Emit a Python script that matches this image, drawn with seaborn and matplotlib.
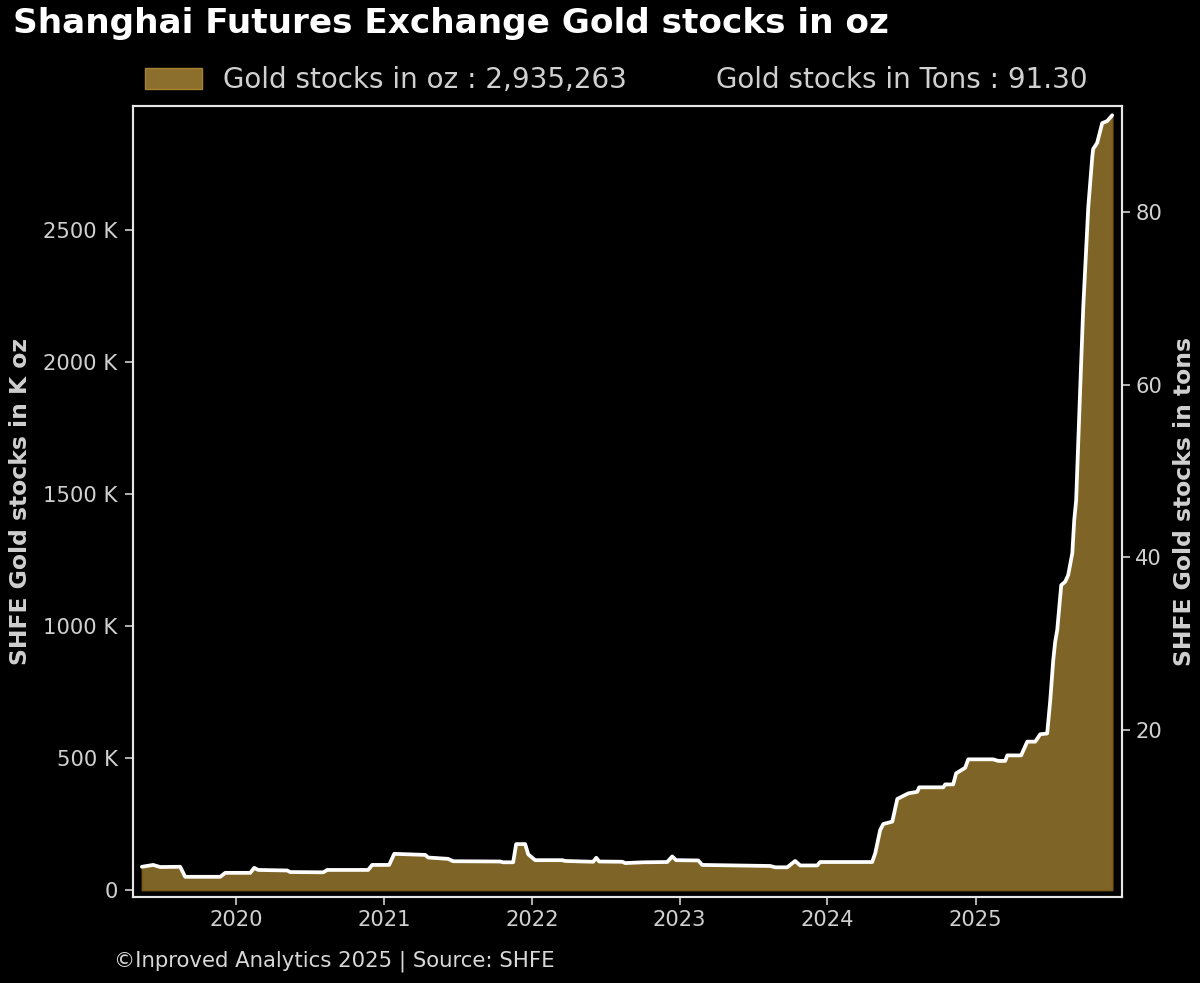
import numpy as np
import pandas as pd
import matplotlib
matplotlib.use("Agg")
import matplotlib.pyplot as plt
import matplotlib.dates as mdates
from matplotlib.patches import Patch
from matplotlib.lines import Line2D
from matplotlib.ticker import FuncFormatter
import seaborn as sns

TITLE = "Shanghai Futures Exchange Gold stocks in oz"
FOOTER = "©Inproved Analytics 2025 | Source: SHFE"
LEGEND_OZ = "Gold stocks in oz : 2,935,263"
LEGEND_TONS = "Gold stocks in Tons : 91.30"
YLABEL_LEFT = "SHFE Gold stocks in K oz"
YLABEL_RIGHT = "SHFE Gold stocks in tons"

decimal_years = [
    2019.362, 2019.438, 2019.486, 2019.621, 2019.655, 2019.777, 2019.892, 2019.926,
    2020.095, 2020.122, 2020.149, 2020.345, 2020.365, 2020.589, 2020.616, 2020.893,
    2020.920, 2021.035, 2021.069, 2021.279, 2021.299, 2021.434, 2021.468, 2021.786,
    2021.806, 2021.874, 2021.894, 2021.955, 2021.976, 2022.023, 2022.206, 2022.226,
    2022.415, 2022.436, 2022.456, 2022.612, 2022.632, 2022.754, 2022.916, 2022.950,
    2022.977, 2023.126, 2023.153, 2023.613, 2023.647, 2023.728, 2023.782, 2023.816,
    2023.931, 2023.951, 2024.303, 2024.324, 2024.357, 2024.378, 2024.439, 2024.473,
    2024.547, 2024.608, 2024.621, 2024.784, 2024.797, 2024.851, 2024.871, 2024.932,
    2024.953, 2025.122, 2025.156, 2025.203, 2025.217, 2025.311, 2025.352, 2025.406,
    2025.440, 2025.487, 2025.508, 2025.528, 2025.541, 2025.555, 2025.582, 2025.609,
    2025.629, 2025.657, 2025.670, 2025.683, 2025.710, 2025.731, 2025.765, 2025.792,
    2025.798, 2025.825, 2025.859, 2025.893, 2025.927,
]
stocks_k_oz = [
    88, 95, 87, 88, 50, 50, 50, 65,
    65, 84, 76, 74, 68, 67, 76, 76,
    95, 95, 137, 133, 123, 118, 109, 108,
    105, 105, 174, 174, 135, 113, 113, 110,
    107, 122, 108, 107, 102, 105, 106, 127,
    113, 112, 95, 91, 86, 86, 110, 93,
    93, 106, 106, 140, 227, 250, 259, 345,
    366, 372, 389, 389, 400, 400, 442, 463,
    495, 495, 489, 489, 510, 510, 562, 562,
    590, 593, 720, 871, 940, 985, 1155, 1168,
    1193, 1276, 1401, 1477, 1894, 2208, 2587, 2777,
    2807, 2830, 2905, 2913, 2935,
]
left_ticks = [0, 500, 1000, 1500, 2000, 2500]
right_ticks = [20, 40, 60, 80]

sns.set_theme(style="dark", rc={
    "figure.facecolor": "black", "axes.facecolor": "black", "savefig.facecolor": "black",
    "axes.edgecolor": "#e6e6e6", "axes.linewidth": 1.5, "axes.grid": False,
    "text.color": "#d0d0d0", "axes.labelcolor": "#d0d0d0",
    "xtick.color": "#d0d0d0", "ytick.color": "#d0d0d0",
    "xtick.bottom": True, "ytick.left": True,
    "xtick.major.size": 6, "ytick.major.size": 6, "xtick.major.width": 1.2, "ytick.major.width": 1.2,
})
plt.rcParams["font.family"] = ["DejaVu Sans"]

dates = pd.Timestamp("2020-01-01") + pd.to_timedelta((np.array(decimal_years) - 2020) * 365.25, unit="D")
df = pd.DataFrame({"date": dates, "stocks": stocks_k_oz})

fig, ax = plt.subplots(figsize=(12, 9.83), dpi=100)
fig.subplots_adjust(left=133/1200, right=1122/1200, top=1-106/983, bottom=1-897/983)

ax.fill_between(df["date"], 0, df["stocks"], color="#7f6427", edgecolor="#7a5a18", linewidth=1.2)
sns.lineplot(data=df, x="date", y="stocks", ax=ax, color="white", linewidth=2.7, legend=False, zorder=3)

ax.set_xlim(pd.Timestamp("2019-04-21"), pd.Timestamp("2025-12-29"))
ax.set_ylim(-26.5, 2970)
ax.set_yticks(left_ticks)
ax.yaxis.set_major_formatter(FuncFormatter(lambda v, _: f"{int(v)} K" if v else "0"))
ax.xaxis.set_major_locator(mdates.YearLocator())
ax.xaxis.set_major_formatter(mdates.DateFormatter("%Y"))
ax.tick_params(axis="both", labelsize=15.2)
ax.tick_params(axis="y", pad=5)
ax.set_xlabel("")
ax.set_ylabel(YLABEL_LEFT, fontsize=16.9, fontweight="bold", labelpad=8)

ax2 = ax.twinx()
ax2.set_ylim(0.65, 92.3)
ax2.set_yticks(right_ticks)
ax2.tick_params(axis="y", labelsize=15.2, right=True, left=False, length=6, width=1.2)
ax2.set_ylabel(YLABEL_RIGHT, fontsize=16.9, fontweight="bold", labelpad=8)
ax2.grid(False)
for sp in list(ax.spines.values()) + list(ax2.spines.values()):
    sp.set_edgecolor("#e6e6e6")
    sp.set_linewidth(1.5)

handles = [Patch(facecolor="#8c6e2d", edgecolor="#a5832f", linewidth=1),
           Line2D([], [], color="none")]
fig.legend(handles, [LEGEND_OZ, LEGEND_TONS], ncol=2, frameon=False, fontsize=20,
           loc="center left", bbox_to_anchor=(145/1200, 1-80/983),
           labelcolor="#d0d0d0", handlelength=2.05, handleheight=0.8,
           columnspacing=0.4, handletextpad=0.75, borderaxespad=0, borderpad=0)

fig.text(13/1200, 1-24/983, TITLE, color="white", fontsize=24.65, fontweight="bold", va="center", ha="left")
fig.text(114/1200, 1-961/983, FOOTER, color="#d8d8d8", fontsize=15.35, va="center", ha="left")

fig.savefig("out.png", dpi=100, facecolor="black")
